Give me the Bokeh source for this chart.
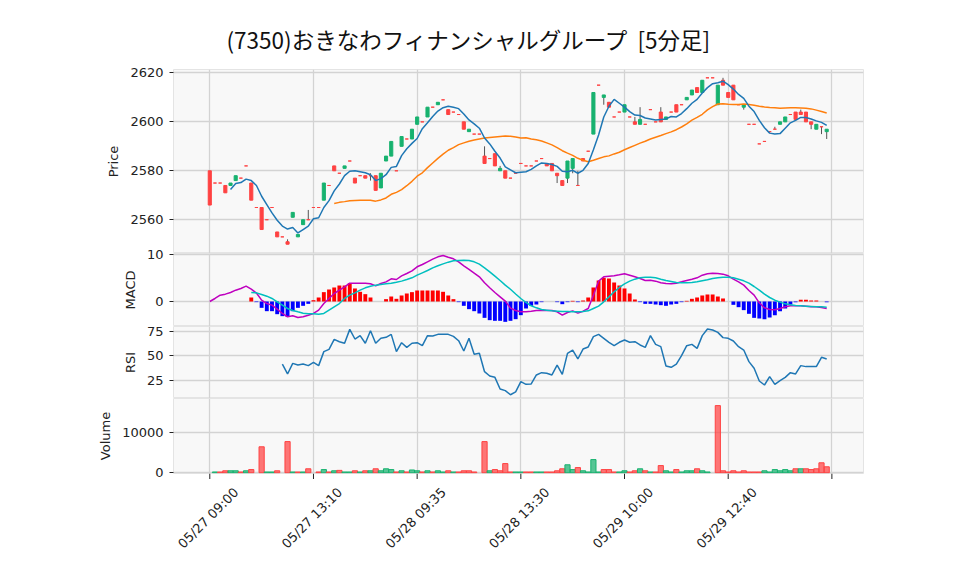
import math
from bokeh.plotting import figure
from bokeh.models import Range1d, FixedTicker
from bokeh.core.properties import value
from bokeh.layouts import column
from bokeh.embed import file_html
from bokeh.resources import INLINE

TITLE = "(7350)おきなわフィナンシャルグループ\u00a0\u00a0[5分足]"
tick_pos = [0, 20, 40, 60, 80, 100, 120]
tick_labels = ["05/27 09:00", "05/27 13:10", "05/28 09:35", "05/28 13:30",
               "05/29 10:00", "05/29 12:40", ""]

opens = [2580, 2575, 2575, 2574, 2574, 2576, 2577, 2582, 2575, 2565,
         2565, 2560, 2565, 2555, 2553, 2551, 2561, 2553, 2558, 2560,
         2565, 2565, 2568, 2574, 2582, 2579, 2581, 2584, 2577, 2578,
         2578, 2578, 2578, 2573, 2584, 2586, 2580, 2590, 2593, 2593,
         2599, 2600, 2602, 2606, 2607, 2609, 2605, 2604, 2603, 2600,
         2596, 2595, 2595, 2586, 2585, 2587, 2580, 2580, 2577, 2579,
         2583, 2582, 2582, 2584, 2585, 2583, 2583, 2579, 2576, 2577,
         2581, 2574, 2585, 2588, 2595, 2615, 2610, 2608, 2602, 2604,
         2604, 2602, 2600, 2599, 2599, 2605, 2600, 2604, 2601, 2604,
         2607, 2607, 2609, 2611, 2614, 2612, 2618, 2618, 2607, 2617,
         2612, 2615, 2607, 2606, 2599, 2599, 2591, 2592, 2596, 2597,
         2599, 2600, 2603, 2604, 2604, 2604, 2600, 2597, 2598, 2596]
highs = [2580, 2575, 2575, 2574, 2575, 2578, 2577, 2582, 2575, 2565,
         2565, 2560, 2565, 2555, 2553, 2552, 2563, 2554, 2560, 2564,
         2565, 2565, 2575, 2574, 2582, 2579, 2582, 2584, 2577, 2578,
         2578, 2579, 2578, 2579, 2586, 2592, 2580, 2594, 2593, 2597,
         2602, 2600, 2606, 2606, 2608, 2609, 2605, 2604, 2603, 2600,
         2597, 2595, 2595, 2590, 2585, 2587, 2582, 2580, 2577, 2579,
         2583, 2582, 2582, 2584, 2585, 2583, 2583, 2579, 2576, 2584,
         2585, 2580, 2585, 2588, 2612, 2615, 2611, 2608, 2602, 2604,
         2607, 2602, 2602, 2606, 2599, 2605, 2600, 2606, 2602, 2604,
         2607, 2607, 2610, 2613, 2614, 2617, 2618, 2618, 2615, 2618,
         2612, 2615, 2607, 2607, 2599, 2599, 2591, 2592, 2596, 2598,
         2600, 2602, 2603, 2604, 2605, 2604, 2600, 2599, 2598, 2597]
lows = [2566, 2575, 2575, 2571, 2574, 2576, 2577, 2582, 2568, 2565,
        2556, 2560, 2565, 2553, 2553, 2550, 2561, 2553, 2558, 2560,
        2565, 2565, 2568, 2574, 2580, 2579, 2581, 2584, 2575, 2578,
        2577, 2576, 2572, 2573, 2584, 2586, 2580, 2590, 2593, 2593,
        2599, 2600, 2602, 2606, 2607, 2609, 2603, 2604, 2603, 2597,
        2596, 2595, 2595, 2583, 2585, 2582, 2580, 2577, 2577, 2579,
        2583, 2582, 2582, 2584, 2585, 2582, 2580, 2575, 2574, 2575,
        2579, 2574, 2584, 2588, 2595, 2615, 2607, 2606, 2602, 2604,
        2604, 2602, 2599, 2599, 2599, 2605, 2600, 2600, 2601, 2604,
        2604, 2607, 2609, 2611, 2612, 2612, 2618, 2618, 2607, 2615,
        2610, 2609, 2607, 2605, 2599, 2599, 2591, 2592, 2596, 2597,
        2599, 2600, 2603, 2601, 2603, 2600, 2597, 2597, 2595, 2593]
closes = [2566, 2575, 2575, 2571, 2575, 2578, 2577, 2582, 2568, 2565,
          2556, 2560, 2565, 2553, 2553, 2550, 2563, 2554, 2560, 2560,
          2565, 2565, 2575, 2574, 2580, 2579, 2582, 2584, 2575, 2578,
          2577, 2578, 2572, 2579, 2586, 2592, 2580, 2594, 2593, 2597,
          2602, 2600, 2606, 2606, 2608, 2609, 2603, 2604, 2603, 2597,
          2597, 2595, 2595, 2583, 2585, 2582, 2581, 2577, 2577, 2579,
          2583, 2582, 2582, 2584, 2585, 2582, 2580, 2578, 2574, 2584,
          2585, 2574, 2584, 2588, 2612, 2615, 2611, 2606, 2602, 2604,
          2607, 2602, 2599, 2601, 2599, 2605, 2600, 2600, 2602, 2604,
          2604, 2607, 2610, 2613, 2612, 2617, 2618, 2618, 2615, 2615,
          2610, 2609, 2607, 2607, 2599, 2599, 2591, 2592, 2596, 2597,
          2600, 2602, 2603, 2601, 2603, 2600, 2599, 2599, 2598, 2597]
volumes = [0, 200, 200, 500, 500, 500, 200, 500, 800, 0,
           6500, 200, 200, 500, 0, 7800, 200, 200, 200, 1000,
           0, 200, 800, 200, 500, 600, 200, 200, 500, 200,
           500, 500, 1000, 500, 1000, 800, 200, 500, 200, 700,
           500, 200, 500, 200, 500, 200, 500, 200, 200, 500,
           500, 200, 0, 7800, 500, 800, 500, 2300, 200, 200,
           200, 200, 200, 200, 200, 200, 200, 500, 1000, 2000,
           800, 1300, 500, 200, 3300, 200, 800, 800, 200, 200,
           500, 200, 500, 1000, 500, 200, 200, 1800, 500, 200,
           800, 200, 500, 500, 1000, 500, 200, 0, 16800, 500,
           200, 500, 200, 500, 200, 200, 200, 500, 200, 800,
           500, 800, 500, 1000, 1000, 1000, 800, 1000, 2500, 1500]

ma5_start = 4
ma5 = [2572.4, 2574.8, 2575.2, 2576.6, 2576.0, 2574.0, 2569.6, 2566.2, 2562.8, 2559.8,
       2557.4, 2556.2, 2556.8, 2554.6, 2556.0, 2557.4, 2560.4, 2560.8, 2565.0, 2567.8,
       2571.8, 2574.6, 2578.0, 2579.8, 2580.0, 2579.6, 2579.2, 2578.4, 2576.0, 2576.8,
       2578.4, 2581.4, 2581.8, 2586.2, 2589.0, 2591.2, 2593.2, 2597.2, 2599.6, 2602.2,
       2604.4, 2605.8, 2606.4, 2606.0, 2605.4, 2603.2, 2600.8, 2599.2, 2597.4, 2593.4,
       2591.0, 2588.0, 2585.2, 2581.6, 2580.4, 2579.2, 2579.4, 2579.6, 2580.6, 2582.0,
       2583.2, 2583.0, 2582.6, 2581.8, 2579.8, 2579.6, 2580.2, 2579.0, 2580.2, 2583.0,
       2588.6, 2594.6, 2602.0, 2606.4, 2609.2, 2607.6, 2606.0, 2604.2, 2602.8, 2602.6,
       2601.6, 2601.2, 2600.8, 2601.0, 2601.2, 2602.2, 2602.0, 2603.4, 2605.4, 2607.6,
       2609.2, 2611.8, 2614.0, 2615.6, 2616.0, 2616.6, 2615.2, 2613.4, 2611.2, 2609.6,
       2606.4, 2604.2, 2600.6, 2597.6, 2595.4, 2595.0, 2595.2, 2597.4, 2599.6, 2600.6,
       2601.8, 2601.8, 2601.2, 2600.4, 2599.8, 2598.6]
ma25_start = 24
ma25 = [2566.6, 2567.1, 2567.4, 2567.8, 2567.9, 2568.0, 2568.0, 2568.0, 2567.6, 2568.1,
        2568.9, 2570.4, 2571.2, 2572.3, 2573.9, 2575.7, 2577.8, 2579.2, 2581.3, 2583.2,
        2585.1, 2586.8, 2588.4, 2589.5, 2590.7, 2591.4, 2592.1, 2592.6, 2593.0, 2593.4,
        2593.6, 2593.8, 2594.0, 2594.2, 2594.1, 2593.8, 2593.4, 2593.5, 2593.0, 2592.7,
        2592.2, 2591.4, 2590.6, 2589.5, 2588.2, 2587.2, 2586.3, 2585.1, 2584.3, 2583.7,
        2584.3, 2585.0, 2585.7, 2586.1, 2586.9, 2587.6, 2588.6, 2589.5, 2590.4, 2591.3,
        2592.1, 2593.0, 2593.7, 2594.4, 2595.2, 2595.9, 2596.8, 2597.9, 2599.2, 2600.7,
        2601.8, 2603.1, 2604.9, 2606.2, 2607.3, 2607.4, 2607.2, 2607.1, 2607.1, 2607.3,
        2607.1, 2606.8, 2606.4, 2606.1, 2605.9, 2605.8, 2605.6, 2605.7, 2605.8, 2605.8,
        2605.7, 2605.6, 2605.3, 2604.8, 2604.2, 2603.6]

macd = [0.00, 0.64, 1.35, 1.56, 1.91, 2.41, 2.77, 3.26, 2.62, 1.80,
        0.28, -0.43, -0.78, -1.63, -2.55, -3.26, -3.05, -3.40, -3.26, -2.91,
        -2.55, -1.84, -0.43, 0.64, 1.70, 2.41, 3.12, 3.90, 3.90, 3.90,
        3.90, 3.76, 3.33, 3.83, 4.18, 4.82, 4.68, 5.46, 5.96, 6.52,
        7.38, 7.87, 8.44, 9.01, 9.50, 9.79, 9.43, 9.08, 8.44, 7.59,
        6.81, 6.03, 5.25, 3.97, 2.91, 1.91, 0.99, 0.07, -1.40, -1.91,
        -2.20, -2.20, -2.06, -1.91, -1.84, -1.91, -1.91, -2.20, -2.91, -2.34,
        -1.99, -2.48, -2.06, -1.49, 1.35, 4.33, 5.25, 5.39, 5.46, 5.67,
        5.89, 5.60, 5.25, 4.89, 4.47, 4.54, 4.33, 3.97, 3.83, 3.76,
        3.90, 4.18, 4.47, 4.75, 5.04, 5.60, 5.89, 6.03, 5.96, 5.82,
        5.46, 4.75, 4.18, 3.48, 2.34, 1.35, -0.28, -1.35, -1.70, -1.77,
        -1.49, -1.13, -0.92, -0.92, -0.92, -0.99, -1.13, -1.13, -1.28, -1.49]
sig_start = 8
signal = [1.91, 1.84, 1.49, 1.13, 0.64, -0.07, -0.78, -1.49, -1.91, -2.20,
          -2.48, -2.62, -2.62, -2.70, -2.55, -1.84, -1.13, -0.43, 0.64, 1.35,
          1.84, 2.41, 2.91, 3.26, 3.48, 3.62, 3.76, 3.90, 4.11, 4.33,
          4.68, 5.04, 5.60, 6.10, 6.60, 7.16, 7.59, 8.01, 8.37, 8.65,
          8.72, 8.79, 8.72, 8.44, 7.94, 7.16, 6.31, 5.39, 4.47, 3.48,
          2.60, 1.60, 0.64, -0.21, -0.92, -1.35, -1.70, -1.84, -1.99, -2.06,
          -2.13, -2.13, -2.20, -2.20, -2.13, -1.99, -1.49, -0.99, -0.07, 0.99,
          2.06, 2.98, 3.76, 4.33, 4.75, 5.04, 5.18, 5.18, 5.04, 4.75,
          4.47, 4.26, 4.04, 3.97, 3.97, 4.04, 4.18, 4.40, 4.61, 4.89,
          5.04, 5.18, 5.18, 5.04, 4.75, 4.40, 3.90, 3.19, 2.41, 1.56,
          0.85, 0.28, -0.14, -0.50, -0.71, -0.85, -0.92, -0.99, -1.06, -1.13,
          -1.13, -1.21]
hist = [0.85, -0.14, -1.35, -2.06, -2.06, -2.70, -3.12, -3.26, -2.06, -1.35,
        -0.92, -0.50, 0.28, 0.85, 1.99, 2.55, 2.98, 3.40, 3.40, 3.90,
        2.77, 2.06, 1.56, 0.85, 0.0, 0.0, 0.50, 1.06, 0.57, 1.28,
        1.70, 1.99, 2.34, 2.34, 2.34, 2.34, 2.34, 2.06, 1.28, 0.50,
        -0.14, -0.92, -1.63, -2.06, -2.55, -3.48, -3.97, -4.11, -4.11, -4.33,
        -4.11, -3.76, -2.91, -1.49, -0.92, -0.64, -0.14, 0.0, 0.0, -0.14,
        -0.57, -0.14, 0.14, -0.14, 0.21, 0.85, 2.98, 4.47, 5.04, 4.89,
        4.04, 3.40, 2.77, 1.70, 0.43, -0.14, -0.50, -0.50, -0.64, -0.78,
        -0.92, -0.64, -0.50, -0.14, 0.14, 0.57, 0.85, 1.28, 1.49, 1.49,
        1.06, 0.64, 0.0, -0.71, -1.21, -1.84, -2.62, -3.48, -3.62, -3.76,
        -3.40, -2.91, -2.06, -1.49, -0.64, -0.14, 0.35, 0.35, 0.21, 0.21,
        0.0, -0.14]
rsi_start = 14
rsi = [41.9, 31.9, 42.6, 40.9, 41.9, 40.3, 43.6, 40.3, 54.4, 56.7,
       66.8, 64.4, 62.8, 76.8, 67.1, 70.5, 62.8, 75.5, 62.8, 67.8,
       68.8, 71.8, 54.4, 63.4, 58.7, 62.8, 63.4, 60.4, 70.5, 70.1,
       71.8, 71.8, 71.8, 69.8, 65.4, 55.0, 67.8, 51.7, 52.7, 34.2,
       29.9, 28.5, 16.8, 15.1, 11.0, 13.8, 24.2, 21.5, 21.9, 30.9,
       33.2, 32.6, 30.9, 40.9, 31.5, 52.7, 56.0, 47.0, 57.0, 59.1,
       69.5, 71.8, 67.8, 63.8, 60.4, 63.8, 66.1, 63.8, 64.4, 61.1,
       58.7, 70.5, 61.7, 59.4, 39.9, 38.6, 41.9, 50.3, 60.4, 61.7,
       57.7, 70.5, 77.2, 76.2, 73.8, 68.5, 67.8, 65.1, 59.4, 56.0,
       44.3, 37.6, 24.8, 20.8, 29.2, 21.5, 25.2, 28.5, 33.2, 31.9,
       40.3, 39.3, 39.3, 39.3, 48.7, 47.0]

TFONT = "Noto Sans CJK JP"
FONT = "DejaVu Sans"
GREEN = "#17b26f"
RED = "#ff4242"
BG = "#f8f8f8"
GRID = "#d3d3d3"

n = len(closes)
idx = list(range(n))
X0, X1 = -7.0, 126.1
x_range = Range1d(X0, X1)


def panel(frame_h, y0, y1, yticks, ylabel, top=0, bottom=0, title=None):
    p = figure(frame_width=690, frame_height=frame_h, x_range=x_range,
               y_range=Range1d(y0, y1), output_backend="svg", toolbar_location=None,
               min_border=0, min_border_left=173, min_border_right=80,
               min_border_top=top, min_border_bottom=bottom,
               x_axis_location=None,
               background_fill_color=BG, border_fill_color="white",
               outline_line_color="#e4e4e4", title=title)
    p.xgrid.ticker = FixedTicker(ticks=tick_pos)
    for g in (p.xgrid, p.ygrid):
        g.grid_line_color = GRID
        g.grid_line_width = 1.3
    ax = p.yaxis[0]
    ax.ticker = FixedTicker(ticks=yticks)
    ax.axis_label = ylabel
    ax.axis_line_color = None
    ax.major_tick_in = 0
    ax.major_tick_out = 4
    ax.major_tick_line_color = "#222222"
    ax.minor_tick_line_color = None
    ax.major_label_standoff = 6
    ax.major_label_text_font = FONT
    ax.major_label_text_font_size = "13px"
    ax.major_label_text_color = "#222222"
    ax.axis_label_text_font = FONT
    ax.axis_label_text_font_size = "13px"
    ax.axis_label_text_font_style = "normal"
    ax.axis_label_text_color = "#222222"
    ax.axis_label_standoff = 6
    return p


# ---- price panel ----
p1 = panel(184, 2546.2, 2621.4, [2560, 2580, 2600, 2620], "Price", top=69, title=TITLE)
p1.title.text_font = TFONT
p1.title.text_font_size = "22.5px"
p1.title.text_font_style = "normal"
p1.title.text_color = "#111111"
p1.title.align = "left"
p1.title.offset = 53
p1.title.standoff = 29

body_top = [max(o, c) for o, c in zip(opens, closes)]
body_bot = [min(o, c) for o, c in zip(opens, closes)]
body_col = [GREEN if c > o else RED for o, c in zip(opens, closes)]
p1.segment(x0=idx, y0=lows, x1=idx, y1=highs, line_color="#555555", line_width=1)
p1.vbar(x=idx, width=0.6, top=body_top, bottom=body_bot,
        fill_color=body_col, line_color=body_col, line_width=1)
p1.line(x=list(range(ma25_start, ma25_start + len(ma25))), y=ma25,
        line_color="#ff7f0e", line_width=1.5)
p1.line(x=list(range(ma5_start, ma5_start + len(ma5))), y=ma5,
        line_color="#1f77b4", line_width=1.5)

# ---- MACD panel (overlaps 8px upward so its top tick label is not cut) ----
p2 = panel(73, -5.32, 10.21, [0, 10], "MACD", top=8)
p2.border_fill_alpha = 0
p2.margin = (-8, 0, 0, 0)
hx = list(range(sig_start, sig_start + len(hist)))
hcol = ["#ff0000" if h >= 0 else "#0000ff" for h in hist]
p2.vbar(x=hx, width=0.75, top=hist, bottom=0, fill_color=hcol, line_color=None)
p2.line(x=idx, y=macd, line_color="#bf00bf", line_width=1.5)
p2.line(x=list(range(sig_start, sig_start + len(signal))), y=signal,
        line_color="#00bfbf", line_width=1.5)

# ---- RSI panel ----
p3 = panel(72, 7.2, 79.7, [25, 50, 75], "RSI", top=8)
p3.border_fill_alpha = 0
p3.margin = (-8, 0, 0, 0)
p3.line(x=list(range(rsi_start, rsi_start + len(rsi))), y=rsi,
        line_color="#1f77b4", line_width=1.5)

# ---- Volume panel ----
p4 = panel(75, -180, 18580, [0, 10000], "Volume", bottom=8)
vx, vt, vc = [], [], []
for i in idx:
    if volumes[i] > 0:
        prev = closes[i - 1] if i > 0 else opens[i]
        vx.append(i)
        vt.append(volumes[i])
        vc.append(GREEN if closes[i] > prev else RED)
p4.vbar(x=vx, width=1.0, top=vt, bottom=0, fill_color=vc, fill_alpha=0.72,
        line_color=vc, line_width=1)

# ---- transparent strip with tick marks and rotated time labels ----
PX_PER_UNIT = 690 / (X1 - X0)
pad = 40
p5 = figure(frame_width=690 + pad, frame_height=80,
            x_range=Range1d(X0, X1 + pad / PX_PER_UNIT),
            y_range=Range1d(0, 80), output_backend="svg", toolbar_location=None,
            min_border=0, min_border_left=173,
            x_axis_location=None, y_axis_location=None,
            background_fill_alpha=0, border_fill_alpha=0,
            outline_line_color=None)
p5.margin = (-8, 0, 0, 0)
p5.grid.visible = False
p5.segment(x0=tick_pos, y0=[80] * len(tick_pos), x1=tick_pos, y1=[74.5] * len(tick_pos),
           line_color="#222222", line_width=1)
lab_x = [t for t, s in zip(tick_pos, tick_labels) if s]
lab_t = [s for s in tick_labels if s]
p5.text(x=lab_x, y=[35.5] * len(lab_x), text=lab_t, angle=math.pi / 4,
        text_align="center", text_baseline="middle", x_offset=-1.5,
        text_font=value(FONT), text_font_size=value("13px"), text_color="#222222")

layout = column(p1, p2, p3, p4, p5, spacing=0)
open("out.html", "w").write(file_html(layout, INLINE))
